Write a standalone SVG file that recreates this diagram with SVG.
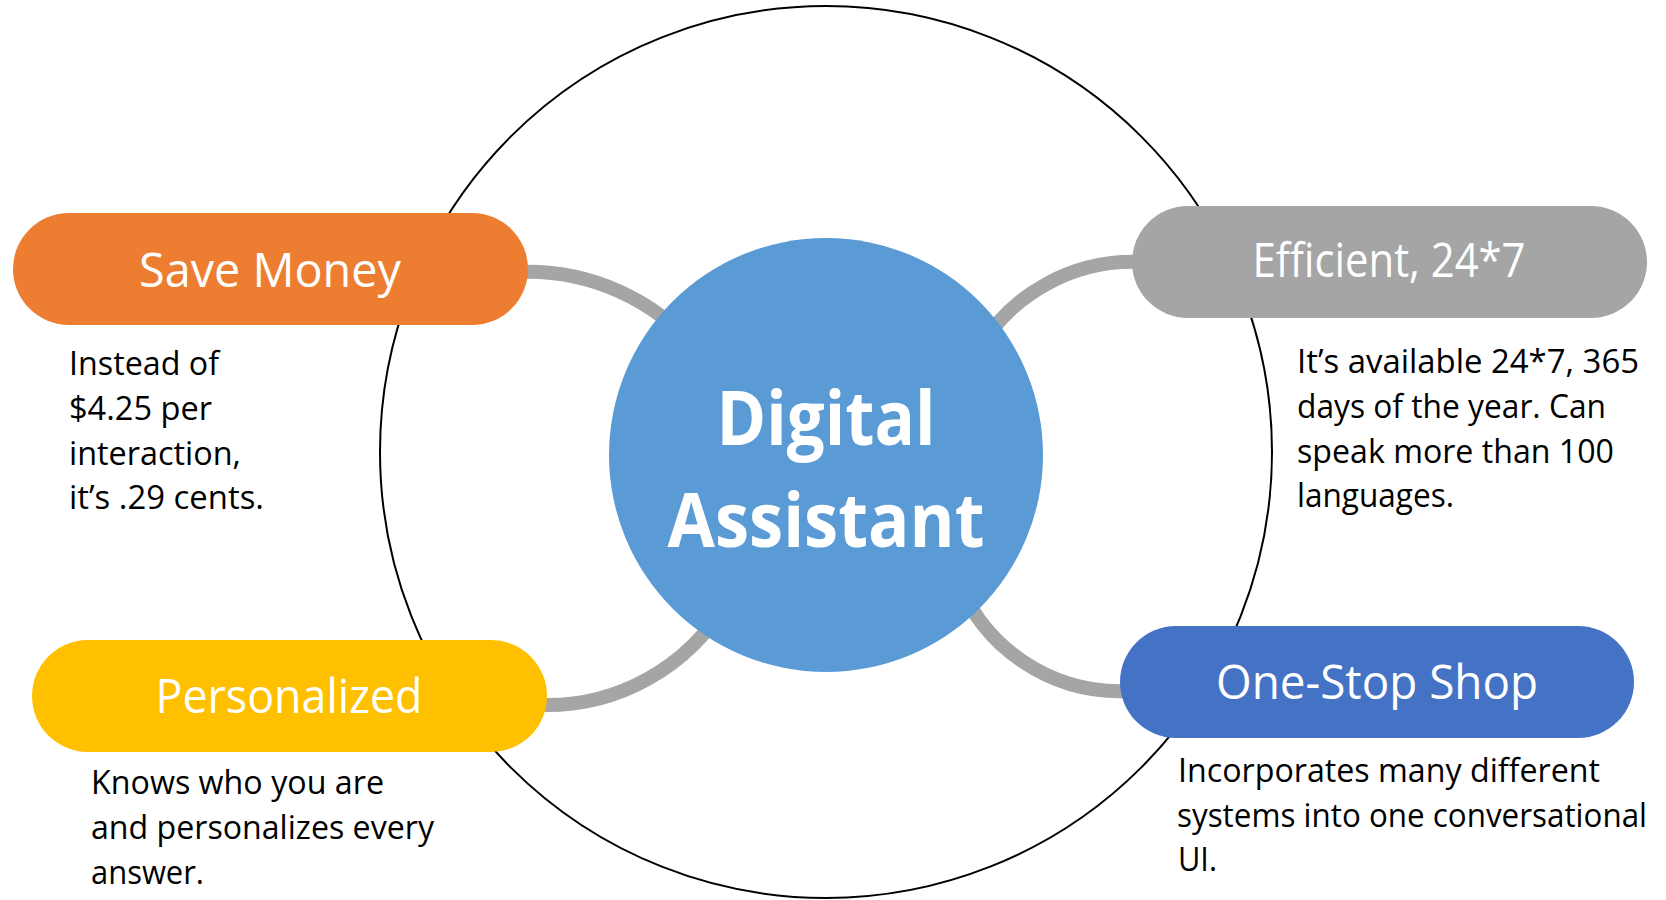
<svg xmlns="http://www.w3.org/2000/svg" width="1666" height="900" viewBox="0 0 1666 900">
  <defs>
    <style>
      .ring { fill: none; stroke: #000; stroke-width: 2; }
      .link { fill: none; stroke: #A5A5A5; stroke-width: 14; }
      .title { font-family: "Open Sans", "Noto Sans", sans-serif; font-size: 48px; fill: #fff; text-anchor: middle; }
      .desc { font-family: "Open Sans", "Noto Sans", sans-serif; font-size: 33px; fill: #000; }
      .hub { font-family: "Open Sans", "Noto Sans", sans-serif; font-size: 76px; font-weight: bold; fill: #fff; text-anchor: middle; }
    </style>
  </defs>
  <rect width="1666" height="900" fill="#fff"/>

  <!-- outer ring -->
  <circle class="ring" cx="826" cy="452" r="446"/>

  <!-- curved connectors from each pill into the hub -->
  <g id="connectors">
    <path class="link" d="M 520 272 A 222 222 0 0 1 698 351"/>
    <path class="link" d="M 1140 262 A 180 180 0 0 0 977 352"/>
    <path class="link" d="M 540 705 A 208 208 0 0 0 727 601"/>
    <path class="link" d="M 1128 691 A 174 174 0 0 1 956.5 576.5"/>
  </g>

  <!-- hub -->
  <g id="hub">
    <circle cx="826" cy="455" r="217" fill="#5B9BD5"/>
    <text class="hub" x="826" y="445" textLength="219" lengthAdjust="spacingAndGlyphs">Digital</text>
    <text class="hub" x="826" y="547" textLength="317" lengthAdjust="spacingAndGlyphs">Assistant</text>
  </g>

  <g id="save-money">
    <rect x="13" y="213" width="515" height="112" rx="56" ry="56" fill="#ED7D31"/>
    <text class="title" x="270" y="287" textLength="262" lengthAdjust="spacingAndGlyphs">Save Money</text>
    <text class="desc" x="69" y="375" textLength="150" lengthAdjust="spacingAndGlyphs">Instead of</text>
    <text class="desc" x="69" y="420" textLength="143" lengthAdjust="spacingAndGlyphs">$4.25 per</text>
    <text class="desc" x="69" y="465" textLength="172" lengthAdjust="spacingAndGlyphs">interaction,</text>
    <text class="desc" x="69" y="509" textLength="195" lengthAdjust="spacingAndGlyphs">it’s .29 cents.</text>
  </g>

  <g id="efficient">
    <rect x="1132" y="206" width="515" height="112" rx="56" ry="56" fill="#A5A5A5"/>
    <text class="title" x="1389" y="277" textLength="273" lengthAdjust="spacingAndGlyphs">Efficient, 24*7</text>
    <text class="desc" x="1297" y="373" textLength="342" lengthAdjust="spacingAndGlyphs">It’s available 24*7, 365</text>
    <text class="desc" x="1297" y="418" textLength="309" lengthAdjust="spacingAndGlyphs">days of the year. Can</text>
    <text class="desc" x="1297" y="463" textLength="317" lengthAdjust="spacingAndGlyphs">speak more than 100</text>
    <text class="desc" x="1297" y="507" textLength="157" lengthAdjust="spacingAndGlyphs">languages.</text>
  </g>

  <g id="personalized">
    <rect x="32" y="640" width="515" height="112" rx="56" ry="56" fill="#FFC000"/>
    <text class="title" x="289" y="713" textLength="267" lengthAdjust="spacingAndGlyphs">Personalized</text>
    <text class="desc" x="91" y="794" textLength="293" lengthAdjust="spacingAndGlyphs">Knows who you are</text>
    <text class="desc" x="91" y="839" textLength="343" lengthAdjust="spacingAndGlyphs">and personalizes every</text>
    <text class="desc" x="91" y="884" textLength="113" lengthAdjust="spacingAndGlyphs">answer.</text>
  </g>

  <g id="one-stop-shop">
    <rect x="1120" y="626" width="514" height="112" rx="56" ry="56" fill="#4472C4"/>
    <text class="title" x="1377" y="699" textLength="322" lengthAdjust="spacingAndGlyphs">One-Stop Shop</text>
    <text class="desc" x="1178" y="782" textLength="422" lengthAdjust="spacingAndGlyphs">Incorporates many different</text>
    <text class="desc" x="1177" y="827" font-size="32" textLength="470" lengthAdjust="spacingAndGlyphs">systems into one conversational</text>
    <text class="desc" x="1178" y="871" textLength="39" lengthAdjust="spacingAndGlyphs">UI.</text>
  </g>
</svg>
